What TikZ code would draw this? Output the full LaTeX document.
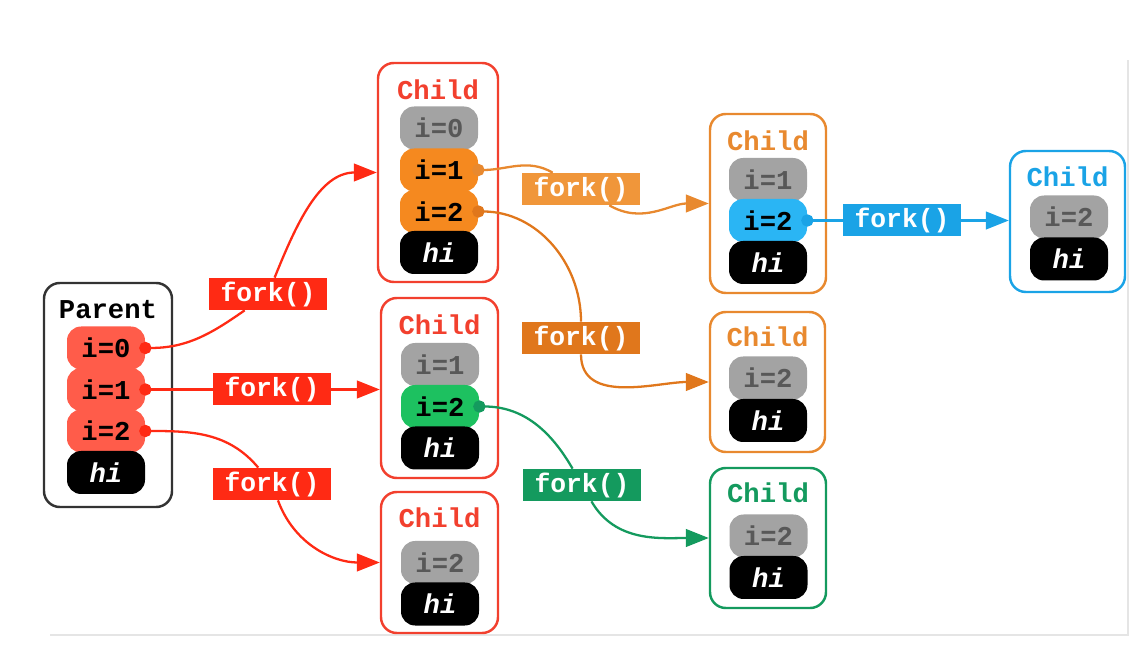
\documentclass[tikz,border=0pt]{standalone}
\usepackage{fontspec}
\setmainfont{Liberation Mono}
\usepackage{tikz}
\usetikzlibrary{arrows.meta}

\definecolor{forkred}{HTML}{FF2A14}
\definecolor{parvar}{HTML}{FF5C4A}
\definecolor{childred}{HTML}{F2402E}
\definecolor{orvar}{HTML}{F5891F}
\definecolor{orline}{HTML}{E8892F}
\definecolor{orlbl}{HTML}{F0963A}
\definecolor{ordark}{HTML}{E0771C}
\definecolor{grayvar}{HTML}{A3A3A3}
\definecolor{graytext}{HTML}{585858}
\definecolor{greenvar}{HTML}{1DC160}
\definecolor{greenline}{HTML}{149A5E}
\definecolor{bluevar}{HTML}{2AB5F4}
\definecolor{blueline}{HTML}{1AA3E6}

\tikzset{
  proc/.style={draw,rounded corners=9pt,line width=1.4pt,fill=white},
  ptitle/.style={font=\fontsize{15.5}{18}\selectfont\bfseries},
  vbox/.style={rounded corners=8pt,minimum width=1.56cm,minimum height=0.86cm,inner sep=0pt,
    font=\fontsize{15.5}{18}\selectfont\bfseries},
  oldvar/.style={vbox,fill=grayvar,text=graytext},
  hibox/.style={vbox,fill=black,text=white,font=\fontsize{15.5}{18}\selectfont\bfseries\itshape},
  forklbl/.style={inner sep=0pt,minimum width=2.36cm,minimum height=0.64cm,text=white,
    font=\fontsize{15}{18}\selectfont\bfseries},
  forkout/.style={line width=1.3pt,{Circle[length=7pt]}-,shorten <=-3.5pt},
  forkin/.style={line width=1.3pt,-{Triangle[length=13pt,width=10pt]}}
}

\begin{document}
\begin{tikzpicture}
\useasboundingbox (0,0) rectangle (22.8,-13.06);
% slide edge
\draw[color=black!10,line width=0.6pt] (1,-12.7) -- (22.56,-12.7) -- (22.56,-1.2);

% parent
\node[proc,draw=black!80,minimum width=2.56cm,minimum height=4.48cm](par)at(2.16,-7.90){};
\node[ptitle](partitle)at(2.16,-6.20){Parent};
\node[vbox,fill=parvar](p0)at(2.12,-6.96){i=0};
\node[vbox,fill=parvar](p1)at(2.12,-7.79){i=1};
\node[vbox,fill=parvar](p2)at(2.12,-8.62){i=2};
\node[hibox](phi)at(2.12,-9.45){hi};

% children of parent
\node[proc,draw=childred,minimum width=2.40cm,minimum height=4.38cm](ch1)at(8.76,-3.45){};
\node[ptitle,text=childred](ch1title)at(8.76,-1.80){Child};
\node[oldvar](ch1a)at(8.78,-2.56){i=0};
\node[vbox,fill=orvar](ch1b)at(8.78,-3.40){i=1};
\node[vbox,fill=orvar](ch1c)at(8.78,-4.23){i=2};
\node[hibox](ch1hi)at(8.78,-5.05){hi};

\node[proc,draw=childred,minimum width=2.34cm,minimum height=3.60cm](ch2)at(8.79,-7.76){};
\node[ptitle,text=childred](ch2title)at(8.79,-6.50){Child};
\node[oldvar](ch2a)at(8.80,-7.29){i=1};
\node[vbox,fill=greenvar](ch2b)at(8.80,-8.13){i=2};
\node[hibox](ch2hi)at(8.80,-8.96){hi};

\node[proc,draw=childred,minimum width=2.34cm,minimum height=2.82cm](ch3)at(8.79,-11.25){};
\node[ptitle,text=childred](ch3title)at(8.79,-10.36){Child};
\node[oldvar](ch3a)at(8.80,-11.25){i=2};
\node[hibox](ch3hi)at(8.80,-12.08){hi};

% grandchildren
\node[proc,draw=orline,minimum width=2.32cm,minimum height=3.58cm](ch4)at(15.36,-4.07){};
\node[ptitle,text=orline](ch4title)at(15.36,-2.82){Child};
\node[oldvar](ch4a)at(15.36,-3.59){i=1};
\node[vbox,fill=bluevar](ch4b)at(15.36,-4.41){i=2};
\node[hibox](ch4hi)at(15.36,-5.25){hi};

\node[proc,draw=orline,minimum width=2.30cm,minimum height=2.80cm](ch6)at(15.35,-7.64){};
\node[ptitle,text=orline](ch6title)at(15.35,-6.74){Child};
\node[oldvar](ch6a)at(15.36,-7.56){i=2};
\node[hibox](ch6hi)at(15.36,-8.41){hi};

\node[proc,draw=greenline,minimum width=2.32cm,minimum height=2.80cm](ch7)at(15.36,-10.76){};
\node[ptitle,text=greenline](ch7title)at(15.36,-9.86){Child};
\node[oldvar](ch7a)at(15.37,-10.72){i=2};
\node[hibox](ch7hi)at(15.37,-11.55){hi};

\node[proc,draw=blueline,minimum width=2.30cm,minimum height=2.82cm](ch5)at(21.35,-4.43){};
\node[ptitle,text=blueline](ch5title)at(21.35,-3.54){Child};
\node[oldvar](ch5a)at(21.38,-4.34){i=2};
\node[hibox](ch5hi)at(21.38,-5.18){hi};

% fork labels
\node[forklbl,fill=forkred](f1)at(5.36,-5.88){fork()};
\node[forklbl,fill=forkred](f2)at(5.44,-7.79){fork()};
\node[forklbl,fill=forkred](f3)at(5.44,-9.68){fork()};
\node[forklbl,fill=orlbl](f4)at(11.62,-3.78){fork()};
\node[forklbl,fill=ordark](f5)at(11.62,-6.76){fork()};
\node[forklbl,fill=greenline](f6)at(11.64,-9.70){fork()};
\node[forklbl,fill=blueline](f7)at(18.04,-4.41){fork()};

% forks
\draw[forkout,forkred] (p0.east) to[out=0,in=215] (f1);
\draw[forkin,forkred] (f1) to[out=68,in=180] (ch1.west);
\draw[forkout,forkred] (p1.east) -- (f2);
\draw[forkin,forkred] (f2) -- (f2 -| ch2.west);
\draw[forkout,forkred] (p2.east) to[out=0,in=130] (f3);
\draw[forkin,forkred] (f3) to[out=-70,in=180] (ch3.west);
\draw[forkout,orline] (ch1b.east) to[out=0,in=150] (f4);
\draw[forkin,orline] (f4) to[out=-30,in=180] (ch4.west);
\draw[forkout,ordark] (ch1c.east) to[out=0,in=90] (f5);
\draw[forkin,ordark] (f5) to[out=-90,in=180] (ch6.west);
\draw[forkout,greenline] (ch2b.east) to[out=0,in=120] (f6);
\draw[forkin,greenline] (f6) to[out=-60,in=180] (ch7.west);
\draw[forkout,blueline] (ch4b.east) -- (f7);
\draw[forkin,blueline] (f7) -- (f7 -| ch5.west);
\end{tikzpicture}
\end{document}
